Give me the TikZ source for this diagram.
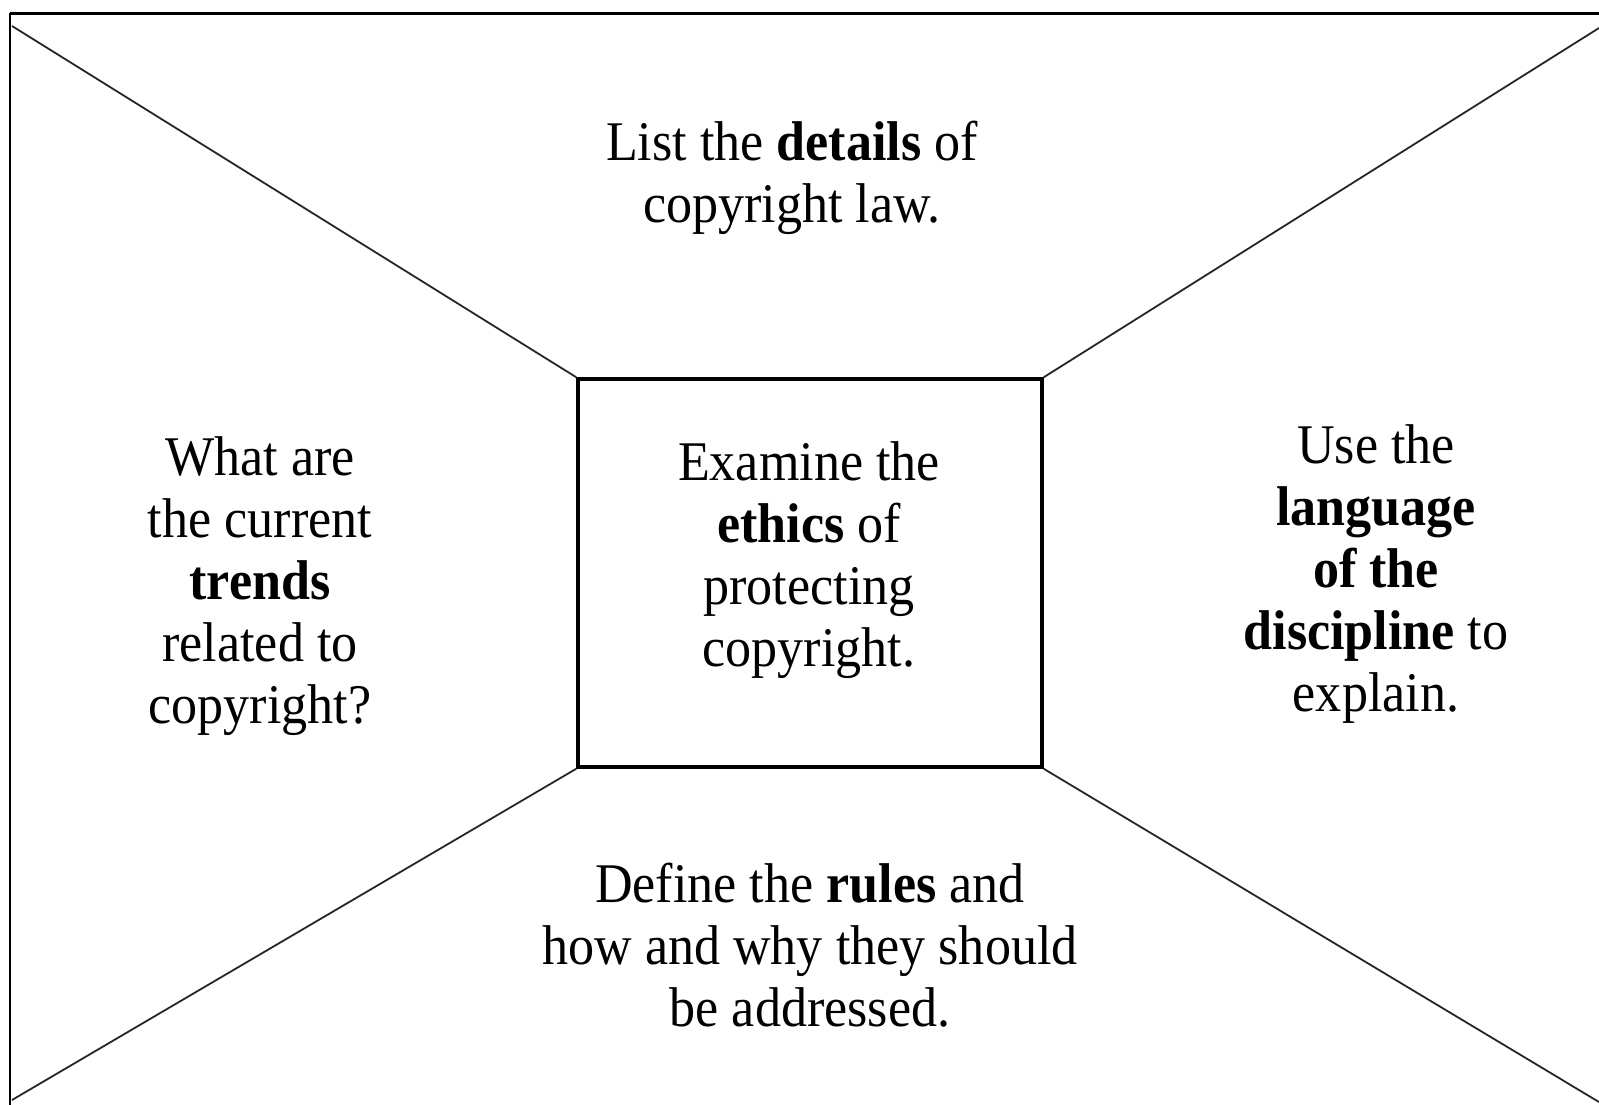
\documentclass[tikz,border=0pt]{standalone}
\usepackage{fontspec}
\newfontfamily\tf[FakeStretch=0.93]{Liberation Serif}
\begin{document}
\begin{tikzpicture}[x=1pt,y=-1pt,
  txt/.style={align=center, inner sep=0pt, font=\tf\fontsize{56}{62}\selectfont},
  ray/.style={draw=black!85, line width=1.8pt},
  frame/.style={draw=black, line width=3pt},
  hub/.style={draw=black, line width=3.5pt, minimum width=464pt, minimum height=388pt, inner sep=0pt}]
\useasboundingbox (0,0) rectangle (1599,1104);
\clip (0,0) rectangle (1599,1104);
% outer frame (only top and left edges are visible)
\coordinate (fc) at (10,13);
\draw[frame] (fc) -- (1610,13);
\draw[frame, line width=2.2pt] (fc) -- (10,1110);
% central box
\node[hub] (box) at (810,573) {};
% outer end points of the rays
\coordinate (tl) at (12,26);
\coordinate (tr) at (1599,28);
\coordinate (bl) at (12,1100);
\coordinate (br) at (1599,1102);
\draw[ray] (tl) -- (box.north west);
\draw[ray] (box.north east) -- (tr);
\draw[ray] (box.south west) -- (bl);
\draw[ray] (box.south east) -- (br);
% texts
\node[txt] (top) at (792,179) {\strut List the \textbf{details} of\\copyright law.\strut};
\node[txt] (left) at (260,587) {\strut What are\\the current\\\textbf{trends}\\related to\\copyright?\strut};
\node[txt] (ctext) at (809,561) {\strut Examine the\\\textbf{ethics} of\\protecting\\copyright.\strut};
\node[txt] (right) at (1376,575) {\strut Use the\\\textbf{language}\\\textbf{of the}\\\textbf{discipline} to\\explain.\strut};
\node[txt] (bottom) at (810,952) {\strut Define the \textbf{rules} and\\how and why they should\\be addressed.\strut};
\end{tikzpicture}
\end{document}
